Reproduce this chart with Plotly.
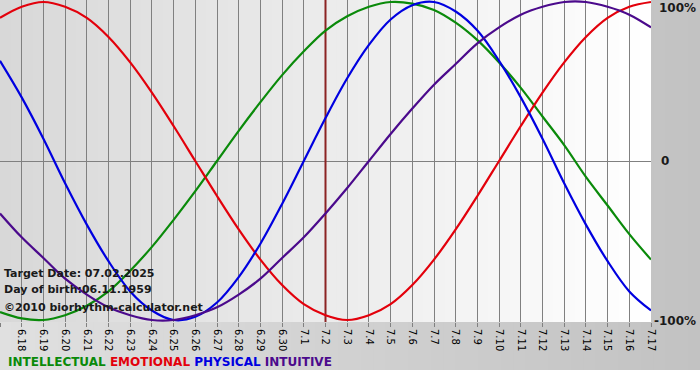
import plotly.graph_objects as go

# ---- data ----
dates = ["6.17", "6.18", "6.19", "6.20", "6.21", "6.22", "6.23", "6.24", "6.25", "6.26",
         "6.27", "6.28", "6.29", "6.30", "7.1", "7.2", "7.3", "7.4", "7.5", "7.6",
         "7.7", "7.8", "7.9", "7.10", "7.11", "7.12", "7.13", "7.14", "7.15", "7.16", "7.17"]

intellectual = [-0.95, -0.99, -1.00, -0.97, -0.91, -0.82, -0.69, -0.54, -0.37, -0.19,
                0.00, 0.19, 0.37, 0.54, 0.69, 0.82, 0.91, 0.97, 1.00, 0.99,
                0.95, 0.87, 0.76, 0.62, 0.46, 0.28, 0.10, -0.10, -0.28, -0.46, -0.62]
emotional = [0.90, 0.97, 1.00, 0.97, 0.90, 0.78, 0.62, 0.43, 0.22, 0.00,
             -0.22, -0.43, -0.62, -0.78, -0.90, -0.97, -1.00, -0.97, -0.90, -0.78,
             -0.62, -0.43, -0.22, 0.00, 0.22, 0.43, 0.62, 0.78, 0.90, 0.97, 1.00]
physical = [0.63, 0.40, 0.14, -0.14, -0.40, -0.63, -0.82, -0.94, -1.00, -0.98,
            -0.89, -0.73, -0.52, -0.27, 0.00, 0.27, 0.52, 0.73, 0.89, 0.98,
            1.00, 0.94, 0.82, 0.63, 0.40, 0.14, -0.14, -0.40, -0.63, -0.82, -0.94]
intuitive = [-0.33, -0.48, -0.61, -0.74, -0.84, -0.92, -0.97, -1.00, -1.00, -0.97,
             -0.92, -0.84, -0.74, -0.61, -0.48, -0.33, -0.17, 0.00, 0.17, 0.33,
             0.48, 0.61, 0.74, 0.84, 0.92, 0.97, 1.00, 1.00, 0.97, 0.92, 0.84]

target_date = "7.2"
info_lines = ["Target Date: 07.02.2025", "Day of birth:06.11.1959", "\u00a92010 biorhythm-calculator.net"]
y_labels = ["100%", "0", "-100%"]

series = [
    ("INTELLECTUAL", intellectual, "#0a8a0a"),
    ("EMOTIONAL", emotional, "#e3000b"),
    ("PHYSICAL", physical, "#0000e0"),
    ("INTUITIVE", intuitive, "#4b0a8c"),
]

W, H = 700, 380
L, R, T, B = 0, 49, 0, 58
plot_h = H - T - B
plot_w = W - L - R
x_idx = list(range(len(dates)))
Y0, Y1 = -1.0125, 1.0125

fig = go.Figure()
# target date marker (drawn first so curves pass over it)
ti = dates.index(target_date)
fig.add_trace(go.Scatter(x=[ti, ti], y=[Y0, Y1], mode="lines",
                         line=dict(color="#8b2323", width=2), hoverinfo="skip", showlegend=False))
for name, vals, col in series:
    fig.add_trace(go.Scatter(x=x_idx, y=vals, mode="lines", name=name,
                             line=dict(color=col, width=2.2, shape="spline", smoothing=1.0),
                             hoverinfo="skip"))

shapes = []
# paper gradient (horizontal, light gray -> darker gray), white strip at very bottom
n = 60
x_end = W / plot_w
y_bot = (plot_h - (370 - T)) / plot_h
for k in range(n):
    t = k / (n - 1)
    v = int(round(224 - (224 - 194) * t))
    shapes.append(dict(type="rect", xref="paper", yref="paper",
                       x0=x_end * k / n, x1=x_end * (k + 1) / n + 0.002,
                       y0=y_bot, y1=1.0, fillcolor=f"rgb({v},{v},{v})",
                       line=dict(width=0), layer="below"))
# plot-area gradient
n2 = 60
for k in range(n2):
    t = k / (n2 - 1)
    v = int(round(216 + (255 - 216) * t))
    shapes.append(dict(type="rect", xref="x", yref="y",
                       x0=(len(dates) - 1) * k / n2, x1=(len(dates) - 1) * (k + 1) / n2 + 0.05,
                       y0=Y0, y1=Y1,
                       fillcolor=f"rgb({v},{v},{v})", line=dict(width=0), layer="below"))

annotations = []
ys_info = [273, 289, 307]
for txt, yp in zip(info_lines, ys_info):
    annotations.append(dict(text=f"<b>{txt}</b>", xref="paper", yref="paper",
                            x=0.003, y=(plot_h - yp) / plot_h, xanchor="left", yanchor="middle",
                            showarrow=False, font=dict(family="DejaVu Sans", size=11, color="#1a1a1a")))
leg = " ".join(f"<span style='color:{c}'>{nm}</span>" for nm, _, c in series)
annotations.append(dict(text=f"<b>{leg}</b>", xref="paper", yref="paper",
                        x=6 / plot_w, y=(plot_h - 362) / plot_h, xanchor="left", yanchor="middle",
                        showarrow=False, font=dict(family="DejaVu Sans", size=12)))
for txt, yp, xp in zip(y_labels, [8, 161, 321], [657, 659, 652]):
    annotations.append(dict(text=f"<b>{txt}</b>", xref="paper", yref="paper",
                            x=xp / plot_w, y=(plot_h - yp) / plot_h,
                            xanchor="left", yanchor="middle", showarrow=False,
                            font=dict(family="DejaVu Sans", size=12, color="#1a1a1a")))

fig.update_layout(
    width=W, height=H, margin=dict(l=L, r=R, t=T, b=B, pad=0, autoexpand=False),
    paper_bgcolor="white", plot_bgcolor="rgba(0,0,0,0)",
    showlegend=False, shapes=shapes, annotations=annotations,
    xaxis=dict(range=[0, len(dates) - 1], tickvals=x_idx, ticktext=dates, tickangle=90,
               showgrid=True, gridcolor="#808080", gridwidth=1, zeroline=False,
               ticks="outside", ticklen=4, tickcolor="#808080",
               tickfont=dict(family="DejaVu Sans", size=10, color="#000000"),
               showline=False, fixedrange=True, automargin=False),
    yaxis=dict(range=[Y0, Y1], showgrid=False, showticklabels=False,
               zeroline=True, zerolinecolor="#808080", zerolinewidth=1, ticks="",
               fixedrange=True, automargin=False),
)

fig.write_html("out.html", config={"displayModeBar": False},
               post_script="document.body.style.margin='0';document.body.style.padding='0';")
